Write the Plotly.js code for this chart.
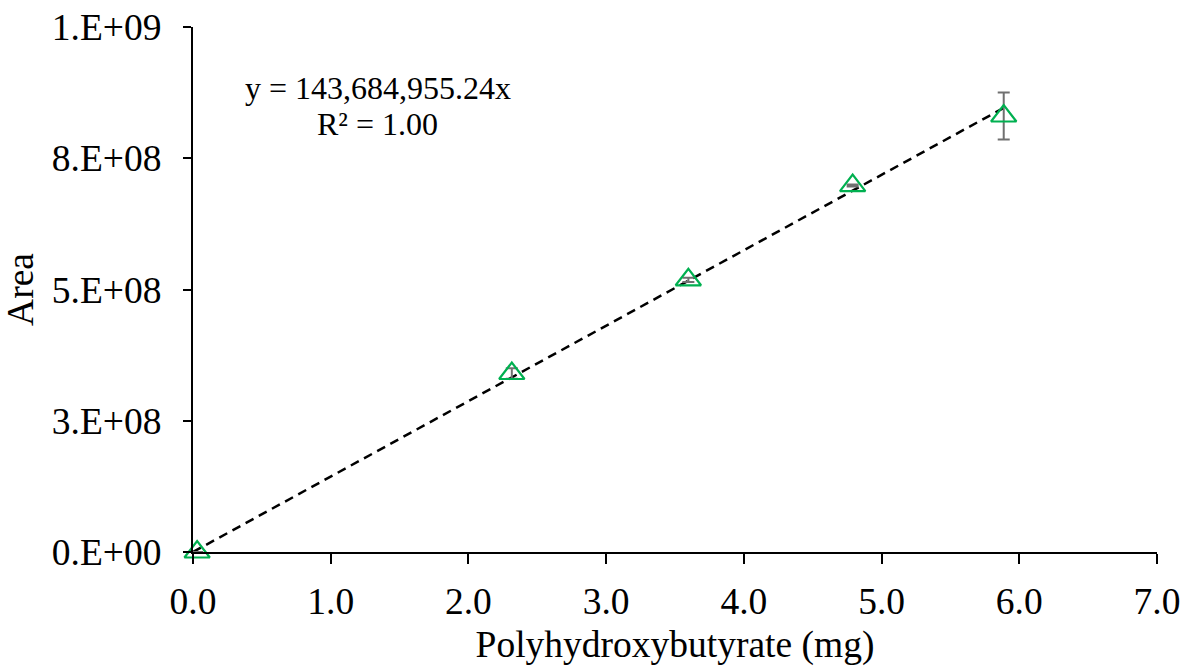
<!DOCTYPE html>
<html>
<head>
<meta charset="utf-8">
<script src="https://cdn.plot.ly/plotly-3.0.1.min.js"></script>
<style>html,body{margin:0;padding:0;background:#fff;}#chart{width:1186px;height:670px;}</style>
</head>
<body>
<div id="chart"></div>
<script>
// Data
var pmass = [0.03, 2.315, 3.597, 4.79, 5.887];          // Polyhydroxybutyrate (mg)
var area = [0, 340e6, 518.5e6, 698e6, 830.5e6];          // Area
var areaErr = [0, 10e6, 4e6, 2e6, 44.8e6];               // error bar half-length
var slope = 143684955.24;                                // trendline slope (through origin)
var eqText = "y = 143,684,955.24x";
var r2Text = "R\u00B2 = 1.00";
var yTickVals = [0, 2.5e8, 5e8, 7.5e8, 1e9];
var yTickText = ["0.E+00", "3.E+08", "5.E+08", "8.E+08", "1.E+09"];

var font = "Liberation Serif, Times New Roman, serif";
var fs = 37.5;

var xMax = Math.max.apply(null, pmass);
var trendX = [0, xMax];
var trendY = trendX.map(function (v) { return slope * v; });

var traces = [
  {
    x: trendX, y: trendY, type: "scatter", mode: "lines",
    line: { color: "#000000", width: 2.5, dash: "9px,6px" },
    hoverinfo: "skip", showlegend: false, cliponaxis: false
  },
  {
    x: pmass, y: area, type: "scatter", mode: "markers",
    marker: { symbol: "triangle-up-open", size: 22, color: "#00B050", line: { color: "#00B050", width: 2.2 } },
    error_y: { type: "data", array: areaErr, visible: true, color: "#707070", thickness: 2, width: 6 },
    showlegend: false, cliponaxis: false
  }
];

var layout = {
  width: 1186, height: 670,
  margin: { l: 193, r: 29, t: 27, b: 118 },
  paper_bgcolor: "#ffffff", plot_bgcolor: "#ffffff",
  font: { family: font, size: fs, color: "#000000" },
  showlegend: false,
  xaxis: {
    range: [0, 7], dtick: 1, tick0: 0, tickformat: ".1f",
    showgrid: false, zeroline: false,
    showline: true, linecolor: "#000000", linewidth: 2,
    ticks: "outside", ticklen: 10, tickwidth: 2, tickcolor: "#000000",
    tickfont: { family: font, size: fs, color: "#000000" },
    ticklabelstandoff: 5,
    title: { text: "Polyhydroxybutyrate (mg)", font: { family: font, size: fs, color: "#000000" }, standoff: 10 },
    automargin: false, fixedrange: true
  },
  yaxis: {
    range: [0, 1e9], tickvals: yTickVals, ticktext: yTickText,
    showgrid: false, zeroline: false,
    showline: true, linecolor: "#000000", linewidth: 2,
    ticks: "outside", ticklen: 8, tickwidth: 2, tickcolor: "#000000",
    tickfont: { family: font, size: fs, color: "#000000" },
    ticklabelstandoff: 14,
    title: { text: "Area", font: { family: font, size: fs, color: "#000000" }, standoff: 12 },
    automargin: false, fixedrange: true
  },
  annotations: [
    { x: 1.34, y: 884e6, xref: "x", yref: "y", text: eqText, showarrow: false,
      xanchor: "center", yanchor: "middle", font: { family: font, size: 32, color: "#000000" } },
    { x: 1.34, y: 815e6, xref: "x", yref: "y", text: r2Text, showarrow: false,
      xanchor: "center", yanchor: "middle", font: { family: font, size: 32, color: "#000000" } }
  ]
};

Plotly.newPlot("chart", traces, layout, { displayModeBar: false, staticPlot: true });
</script>
</body>
</html>
